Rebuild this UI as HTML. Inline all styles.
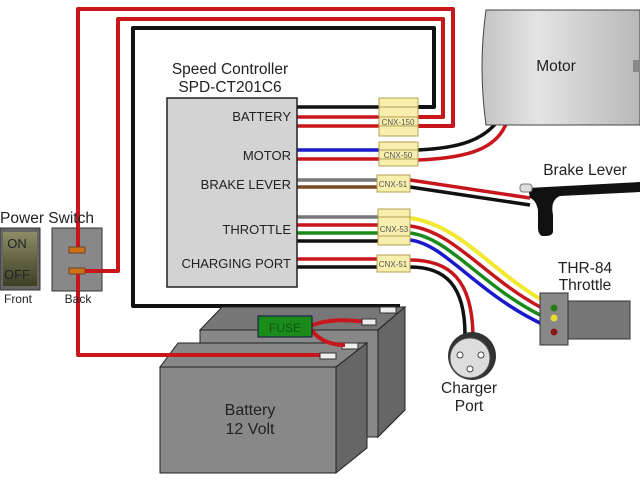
<!DOCTYPE html>
<html><head><style>body{margin:0;background:#fff}svg{display:block}text{font-family:"Liberation Sans",sans-serif;fill:#222}</style></head>
<body>
<svg width="640" height="480" viewBox="0 0 640 480" xmlns="http://www.w3.org/2000/svg">
<g fill="none" stroke-linejoin="round">
<polyline points="78,250 78,9 453,9 453,126 418,126" stroke="#fff" stroke-width="6"/>
<polyline points="78,250 78,9 453,9 453,126 418,126" stroke="#c8161d" stroke-width="4"/>
<polyline points="80,271 118,271 118,19 443,19 443,117 418,117" stroke="#fff" stroke-width="6"/>
<polyline points="80,271 118,271 118,19 443,19 443,117 418,117" stroke="#c8161d" stroke-width="4"/>
<polyline points="335,306 133,306 133,28 434,28 434,107 418,107" stroke="#fff" stroke-width="6"/>
<polyline points="400,306 133,306 133,28 434,28 434,107 418,107" stroke="#111" stroke-width="4"/>
<polyline points="78,271 78,355 330,355" stroke="#c8161d" stroke-width="4"/>
<g stroke-width="3.5">
<line x1="297" y1="107" x2="380" y2="107" stroke="#111"/>
<line x1="297" y1="117" x2="380" y2="117" stroke="#c8161d"/>
<line x1="297" y1="126" x2="380" y2="126" stroke="#c8161d"/>
<line x1="297" y1="150" x2="380" y2="150" stroke="#1a1acc"/>
<line x1="297" y1="159" x2="380" y2="159" stroke="#c8161d"/>
<line x1="297" y1="180" x2="378" y2="180" stroke="#777"/>
<line x1="297" y1="187" x2="378" y2="187" stroke="#7a4a25"/>
<line x1="297" y1="217" x2="378" y2="217" stroke="#777"/>
<line x1="297" y1="225" x2="378" y2="225" stroke="#c8161d"/>
<line x1="297" y1="233" x2="378" y2="233" stroke="#1a8a1a"/>
<line x1="297" y1="241" x2="378" y2="241" stroke="#111"/>
<line x1="297" y1="259" x2="378" y2="259" stroke="#c8161d"/>
<line x1="297" y1="267" x2="378" y2="267" stroke="#111"/>
<path d="M418,150 C460,148 485,140 500,118" stroke="#111"/>
<path d="M418,160 C470,158 500,148 508,118" stroke="#c8161d"/>
<path d="M410,180 L530,198" stroke="#c8161d"/>
<path d="M410,187 L530,205" stroke="#111"/>
<path d="M410,218 C460,225 490,270 542,300" stroke="#f2e830" stroke-width="4"/>
<path d="M410,226 C455,232 485,278 542,308" stroke="#c8161d"/>
<path d="M410,233 C450,238 480,285 542,316" stroke="#1a8a1a"/>
<path d="M410,240 C445,244 475,292 542,324" stroke="#1a1acc"/>
<path d="M410,260 C450,260 472,280 473,335" stroke="#c8161d"/>
<path d="M410,267 C445,267 465,285 465,335" stroke="#111"/>
</g>
</g>
<rect x="167" y="98" width="130" height="189" fill="#d3d3d3" stroke="#222" stroke-width="1.5"/>
<text x="230" y="74" font-size="15.5" text-anchor="middle">Speed Controller</text>
<text x="230" y="92" font-size="15.5" text-anchor="middle">SPD-CT201C6</text>
<g font-size="13" text-anchor="end">
<text x="291" y="121">BATTERY</text><text x="291" y="160">MOTOR</text><text x="291" y="189">BRAKE LEVER</text><text x="291" y="234">THROTTLE</text><text x="291" y="268">CHARGING PORT</text>
</g>
<g fill="#f8eeae" stroke="#b5a050">
<rect x="379" y="98" width="39" height="38"/><line x1="379" y1="107" x2="418" y2="107"/><line x1="379" y1="117" x2="418" y2="117"/><line x1="379" y1="126" x2="418" y2="126"/>
<rect x="379" y="142" width="39" height="24"/><line x1="379" y1="150" x2="418" y2="150"/><line x1="379" y1="159" x2="418" y2="159"/>
<rect x="377" y="175" width="33" height="17"/>
<rect x="378" y="209" width="32" height="36"/><line x1="378" y1="217" x2="410" y2="217"/><line x1="378" y1="236" x2="410" y2="236"/>
<rect x="377" y="255" width="33" height="17"/>
</g>
<g font-size="8" text-anchor="middle">
<text x="398" y="125" style="fill:#555">CNX-150</text><text x="398" y="158" style="fill:#555">CNX-50</text><text x="393" y="187" style="fill:#555">CNX-51</text><text x="394" y="232" style="fill:#555">CNX-53</text><text x="393" y="267" style="fill:#555">CNX-51</text>
</g>
<defs><linearGradient id="mg" x1="0" x2="1"><stop offset="0" stop-color="#c4c4c4"/><stop offset=".35" stop-color="#e4e4e4"/><stop offset="1" stop-color="#b8b8b8"/></linearGradient></defs>
<path d="M486,10 L640,10 L640,125 L486,125 Q478,67 486,10Z" fill="url(#mg)" stroke="#444"/>
<text x="556" y="71" font-size="15.5" text-anchor="middle">Motor</text>
<rect x="633" y="60" width="7" height="12" fill="#888"/>
<text x="585" y="175" font-size="15.5" text-anchor="middle">Brake Lever</text>
<path d="M528,188 L640,182 L640,192 L560,196 Q550,200 553,215 L553,232 Q552,236 545,236 L542,236 Q538,234 538,228 L538,210 Q536,200 530,198Z" fill="#111"/>
<rect x="520" y="184" width="12" height="8" rx="3" fill="#ddd" stroke="#777"/>
<text x="585" y="273" font-size="15.5" text-anchor="middle">THR-84</text>
<text x="585" y="290" font-size="15.5" text-anchor="middle">Throttle</text>
<rect x="568" y="301" width="62" height="38" fill="#777" stroke="#333"/>
<rect x="540" y="293" width="28" height="52" fill="#888" stroke="#333"/>
<circle cx="554" cy="308" r="3.5" fill="#2a7a1a"/><circle cx="554" cy="318" r="3.5" fill="#e8d830"/><circle cx="554" cy="332" r="3.5" fill="#8a1a1a"/>
<circle cx="472" cy="356" r="24" fill="#333"/>
<circle cx="470" cy="358" r="20" fill="#ddd" stroke="#555"/>
<circle cx="460" cy="355" r="3" fill="#fff" stroke="#444"/><circle cx="481" cy="355" r="3" fill="#fff" stroke="#444"/><circle cx="470" cy="369" r="3" fill="#fff" stroke="#444"/>
<text x="469" y="393" font-size="15.5" text-anchor="middle">Charger</text>
<text x="469" y="411" font-size="15.5" text-anchor="middle">Port</text>
<text x="47" y="223" font-size="15.5" text-anchor="middle">Power Switch</text>
<rect x="0" y="228" width="40" height="62" fill="#666" stroke="#333"/>
<defs><linearGradient id="sg" x1="0" y1="0" x2="0" y2="1"><stop offset="0" stop-color="#8c8c66"/><stop offset="1" stop-color="#3e3e24"/></linearGradient></defs>
<rect x="3" y="232" width="34" height="54" fill="url(#sg)"/>
<text x="17" y="248" font-size="13" text-anchor="middle">ON</text>
<text x="17" y="279" font-size="13" text-anchor="middle">OFF</text>
<text x="18" y="303" font-size="12" text-anchor="middle">Front</text>
<rect x="52" y="228" width="50" height="63" fill="#888" stroke="#333"/>
<polyline points="78,226 78,250" stroke="#c8161d" stroke-width="4"/>
<polyline points="80,271 102,271" stroke="#c8161d" stroke-width="4"/>
<polyline points="78,271 78,291" stroke="#c8161d" stroke-width="4"/>
<rect x="69" y="247" width="16" height="6" fill="#d07010" stroke="#643"/>
<rect x="69" y="268" width="16" height="6" fill="#d07010" stroke="#643"/>
<text x="78" y="303" font-size="12" text-anchor="middle">Back</text>
<polygon points="200,330 222,307 405,307 378,330" fill="#777" stroke="#222"/>
<polygon points="378,330 405,307 405,410 378,437" fill="#666" stroke="#222"/>
<rect x="200" y="330" width="178" height="107" fill="#888" stroke="#222"/>
<rect x="380" y="307" width="16" height="6" fill="#eee" stroke="#333"/>
<polygon points="160,367 178,343 367,343 336,367" fill="#888" stroke="#222"/>
<polygon points="336,367 367,343 367,448 336,473" fill="#666" stroke="#222"/>
<rect x="160" y="367" width="176" height="106" fill="#888" stroke="#222"/>
<polyline points="78,355 330,355" stroke="#c8161d" stroke-width="4"/>
<rect x="320" y="353" width="16" height="6" fill="#eee" stroke="#333"/>
<rect x="342" y="343" width="16" height="6" fill="#eee" stroke="#333"/>
<path d="M310,326 C330,318 350,320 368,322" fill="none" stroke="#c8161d" stroke-width="4"/>
<path d="M310,328 C318,340 330,345 345,345" fill="none" stroke="#c8161d" stroke-width="4"/>
<rect x="362" y="319" width="14" height="6" fill="#eee" stroke="#333"/>
<rect x="258" y="316" width="54" height="21" fill="#1a8a1a" stroke="#114"/>
<text x="285" y="332" font-size="12" text-anchor="middle" style="fill:#0c5a0c">FUSE</text>
<text x="250" y="415" font-size="16" text-anchor="middle">Battery</text>
<text x="250" y="434" font-size="16" text-anchor="middle">12 Volt</text>
</svg>
</body></html>
